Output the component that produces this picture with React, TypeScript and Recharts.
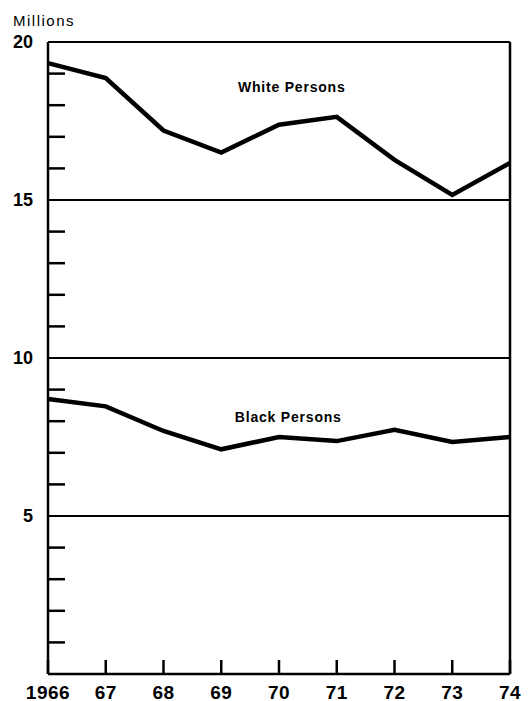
import { Line, LineChart, ReferenceDot, ReferenceLine, XAxis, YAxis } from "recharts";

const YEARS = [1966, 1967, 1968, 1969, 1970, 1971, 1972, 1973, 1974];
const WHITE_PERSONS = [19.33, 18.86, 17.2, 16.5, 17.38, 17.63, 16.27, 15.16, 16.17];
const BLACK_PERSONS = [8.7, 8.47, 7.69, 7.11, 7.5, 7.37, 7.73, 7.34, 7.5];
const Y_TICKS = [0, 1, 2, 3, 4, 5, 6, 7, 8, 9, 10, 11, 12, 13, 14, 15, 16, 17, 18, 19, 20];
const GRID_VALUES = [5, 10, 15, 20];

const FONT = '"Liberation Sans", Arial, Helvetica, sans-serif';

const data = YEARS.map((year, i) => ({
  year,
  white: WHITE_PERSONS[i],
  black: BLACK_PERSONS[i],
}));

function YearTick(props: any) {
  const { x, y, payload } = props;
  const year = Number(payload.value);
  const label = year === 1966 ? "1966" : String(year).slice(2);
  return (
    <g>
      <line x1={x} x2={x} y1={y} y2={y - 14} stroke="#000" strokeWidth={2.5} />
      <text
        x={x}
        y={y + 18}
        textAnchor="middle"
        dominantBaseline="central"
        fontFamily={FONT}
        fontWeight="bold"
        fontSize={19}
        letterSpacing={0.5}
        fill="#000"
      >
        {label}
      </text>
    </g>
  );
}

function ValueTick(props: any) {
  const { x, y, payload } = props;
  const v = Number(payload.value);
  if (v === 0) return <g />;
  if (v % 5 !== 0) {
    return <line x1={x} x2={x + 17} y1={y} y2={y} stroke="#000" strokeWidth={2.5} />;
  }
  return (
    <text
      x={x - 15}
      y={y}
      textAnchor="end"
      dominantBaseline="central"
      fontFamily={FONT}
      fontWeight="bold"
      fontSize={18}
      fill="#000"
    >
      {v}
    </text>
  );
}

const annotation = {
  position: "center" as const,
  fontFamily: FONT,
  fontWeight: "bold",
  fontSize: 14,
  letterSpacing: 0.8,
  fill: "#000",
};

export default function App() {
  return (
    <div
      style={{
        position: "absolute",
        left: 0,
        top: 0,
        width: 528,
        height: 701,
        background: "#fff",
      }}
    >
      <div
        style={{
          position: "absolute",
          left: 13,
          top: 13,
          fontFamily: FONT,
          fontSize: 15,
          lineHeight: "15px",
          letterSpacing: 1.5,
          color: "#000",
        }}
      >
        Millions
      </div>
      <LineChart
        width={528}
        height={701}
        data={data}
        margin={{ top: 42, right: 18, bottom: 0, left: 0 }}
        style={{ overflow: "visible" }}
      >
        <XAxis
          dataKey="year"
          type="number"
          domain={[1966, 1974]}
          ticks={YEARS}
          interval={0}
          height={27}
          tickSize={0}
          tickMargin={0}
          tickLine={false}
          axisLine={{ stroke: "#000", strokeWidth: 2.5 }}
          tick={<YearTick />}
        />
        <YAxis
          type="number"
          domain={[0, 20]}
          ticks={Y_TICKS}
          interval={0}
          width={48}
          tickSize={0}
          tickMargin={0}
          tickLine={false}
          axisLine={{ stroke: "#000", strokeWidth: 2.5 }}
          tick={<ValueTick />}
        />
        {GRID_VALUES.map((v) => (
          <ReferenceLine key={v} y={v} stroke="#000" strokeWidth={2} />
        ))}
        <ReferenceLine x={1974} stroke="#000" strokeWidth={2.5} />
        <Line
          dataKey="white"
          type="linear"
          stroke="#000"
          strokeWidth={4.5}
          dot={false}
          isAnimationActive={false}
        />
        <Line
          dataKey="black"
          type="linear"
          stroke="#000"
          strokeWidth={4.5}
          dot={false}
          isAnimationActive={false}
        />
        <ReferenceDot
          x={1970.22}
          y={18.58}
          r={0}
          stroke="none"
          label={{ ...annotation, value: "White Persons" }}
        />
        <ReferenceDot
          x={1970.16}
          y={8.13}
          r={0}
          stroke="none"
          label={{ ...annotation, value: "Black Persons" }}
        />
      </LineChart>
    </div>
  );
}
